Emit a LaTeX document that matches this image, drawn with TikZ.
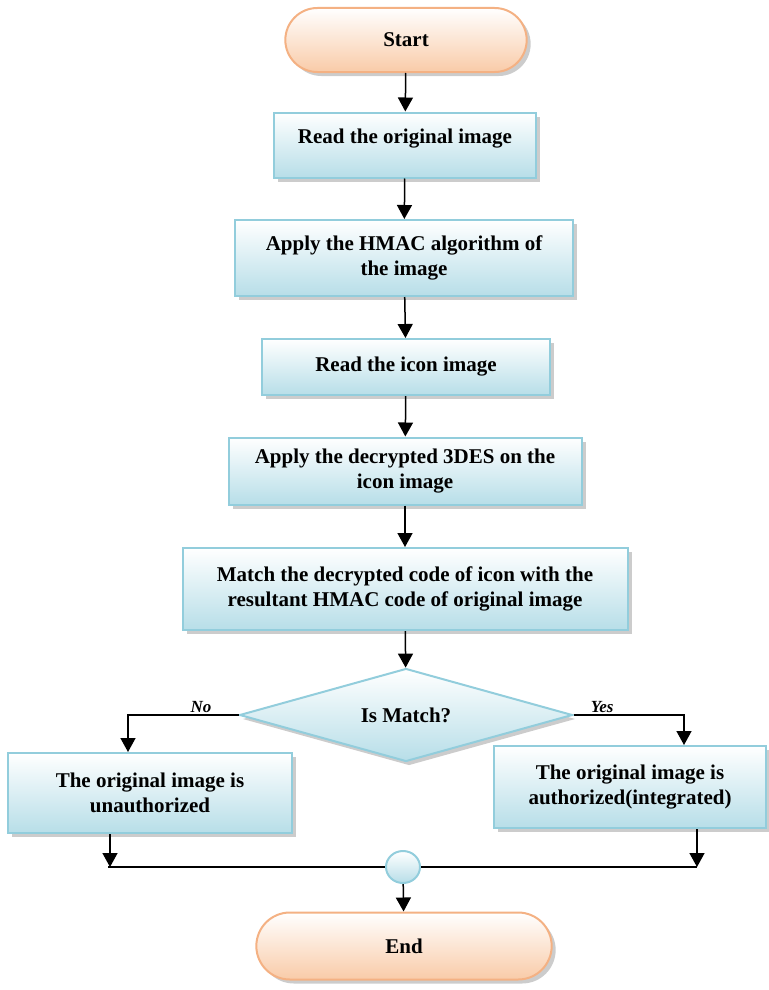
\documentclass[tikz,border=0pt]{standalone}
\usepackage{fontspec}
\setmainfont{Liberation Serif}
\usetikzlibrary{arrows.meta,positioning,shapes.geometric,shapes.misc,shadows}
\definecolor{boxline}{HTML}{92CDDC}
\definecolor{boxfill}{HTML}{B7DEE8}
\definecolor{termline}{HTML}{F4B183}
\definecolor{termfill}{HTML}{F9CBA8}
\definecolor{shadegray}{HTML}{9A9A9A}
\tikzset{
  procbox/.style={draw=boxline,line width=2pt,top color=white,bottom color=boxfill,
                  drop shadow={shadow xshift=4pt,shadow yshift=-4pt,fill=shadegray},
                  align=center,inner sep=4pt,
                  font=\fontsize{21}{25}\selectfont\bfseries},
  termbox/.style={rounded rectangle,draw=termline,line width=2pt,
                  top color=white,bottom color=termfill,
                  drop shadow={shadow xshift=4pt,shadow yshift=-4pt,fill=shadegray},
                  align=center,font=\fontsize{21}{25}\selectfont\bfseries},
  decbox/.style={diamond,draw=boxline,line width=2pt,top color=white,bottom color=boxfill,
                 drop shadow={shadow xshift=3pt,shadow yshift=-4pt,fill=shadegray},
                 inner sep=0pt,aspect=3.6,align=center,
                 font=\fontsize{21}{25}\selectfont\bfseries},
  joinbox/.style={ellipse,draw=boxline,line width=2pt,top color=white,bottom color=boxfill,
                  minimum width=34pt,minimum height=32pt,inner sep=0pt},
  flowarr/.style={-{Triangle[length=14pt,width=15pt]},line width=1.5pt},
  flowline/.style={line width=1.5pt},
  branchlbl/.style={font=\fontsize{17}{20}\selectfont\bfseries\itshape,above,inner sep=2pt}
}
\begin{document}
\begin{tikzpicture}[x=1pt,y=-1pt]
  \path[use as bounding box] (0,0) rectangle (768,990);
  \node[termbox,minimum width=248pt,minimum height=64pt] (start) at (406,40) {Start};
  \node[procbox,minimum width=262pt,minimum height=65pt,text depth=17pt] (readorig) at (405,145)
    {Read the original image};
  \node[procbox,minimum width=338pt,minimum height=76pt] (hmac) at (404,258)
    {Apply the HMAC algorithm of\\the image};
  \node[procbox,minimum width=288pt,minimum height=56pt] (readicon) at (406,367)
    {Read the icon image};
  \node[procbox,minimum width=353pt,minimum height=67pt] (decrypt) at (405,471)
    {Apply the decrypted 3DES on the\\icon image};
  \node[procbox,minimum width=445pt,minimum height=82pt] (compare) at (405,589)
    {Match the decrypted code of icon with the\\resultant HMAC code of original image};
  \node[decbox,minimum width=333pt,minimum height=93pt] (match) at (406,715) {Is Match?};
  \node[procbox,minimum width=284pt,minimum height=80pt] (unauth) at (150,793)
    {The original image is\\unauthorized};
  \node[procbox,minimum width=272pt,minimum height=82pt] (auth) at (630,787)
    {The original image is\\authorized(integrated)};
  \node[joinbox] (merge) at (403,867) {};
  \node[termbox,minimum width=302pt,minimum height=67pt] (end) at (404,946) {End};

  \draw[flowarr] (start) -- (readorig);
  \draw[flowarr] (readorig) -- (hmac);
  \draw[flowarr] (hmac) -- (readicon);
  \draw[flowarr] (readicon) -- (decrypt);
  \draw[flowarr] (decrypt) -- (compare);
  \draw[flowarr] (compare) -- (match);
  \draw[flowarr] (match.west) -| node[branchlbl,pos=0.17] {No} ([xshift=-22pt]unauth.north);
  \draw[flowarr] (match.east) -| node[branchlbl,pos=0.13] {Yes} ([xshift=54pt]auth.north);
  \draw[flowarr] ([xshift=-40pt]unauth.south) -- ([xshift=-40pt]unauth.south |- merge);
  \draw[flowarr] ([xshift=67pt]auth.south) -- ([xshift=67pt]auth.south |- merge);
  \draw[flowline] ([xshift=-42pt]unauth.south |- merge) -- (merge.west);
  \draw[flowline] (merge.east) -- ([xshift=67pt]auth.south |- merge);
  \draw[flowarr] (merge) -- (end);
\end{tikzpicture}
\end{document}
